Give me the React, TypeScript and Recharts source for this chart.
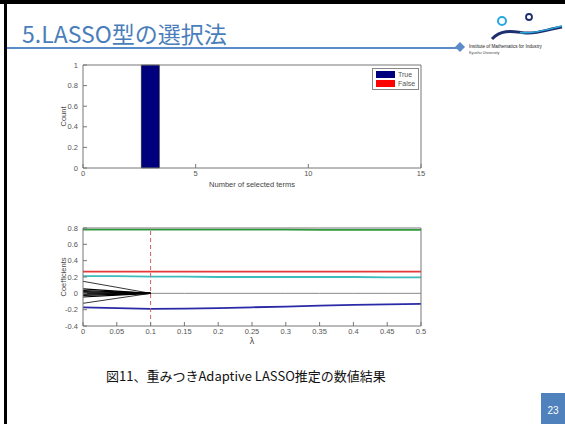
import React from 'react';
import { BarChart, Bar, XAxis, YAxis, Legend, LineChart, Line, ReferenceLine } from 'recharts';

// ---------- top chart data ----------
const selectedTerms = [0, 1, 2, 3, 4, 5, 6, 7, 8, 9, 10, 11, 12, 13, 14, 15];
const trueCount = [0, 0, 0, 1, 0, 0, 0, 0, 0, 0, 0, 0, 0, 0, 0, 0];
const falseCount = [0, 0, 0, 0, 0, 0, 0, 0, 0, 0, 0, 0, 0, 0, 0, 0];
const legendOrder = ['True', 'False'];
const termTicks = [0, 5, 10, 15];
const countTicks = [0, 0.2, 0.4, 0.6, 0.8, 1];

// ---------- bottom chart data ----------
const lambdas = [0, 0.05, 0.1, 0.15, 0.2, 0.25, 0.3, 0.35, 0.4, 0.45, 0.5];
const coefGreen = [0.78, 0.78, 0.78, 0.78, 0.78, 0.78, 0.78, 0.778, 0.778, 0.778, 0.778];
const coefRed = [0.266, 0.266, 0.266, 0.266, 0.266, 0.266, 0.266, 0.266, 0.266, 0.266, 0.266];
const coefCyan = [0.21, 0.21, 0.205, 0.205, 0.2, 0.2, 0.2, 0.2, 0.2, 0.196, 0.196];
const coefBlue = [-0.171, -0.18, -0.19, -0.187, -0.18, -0.171, -0.163, -0.15, -0.142, -0.135, -0.13];
const coefZero = [0, 0, 0, 0, 0, 0, 0, 0, 0, 0, 0];
// black paths shrinking to zero by lambda = 0.1 (values at 0, 0.05, 0.1)
const fanPaths = [
  [0.147, 0.074, 0],
  [0.055, 0.028, 0],
  [0.035, 0.018, 0],
  [0.02, 0.01, 0],
  [0.005, 0.003, 0],
  [-0.01, -0.005, 0],
  [-0.025, -0.013, 0],
  [-0.045, -0.023, 0],
  [-0.122, -0.061, 0],
];
const lambdaTicks = [0, 0.05, 0.1, 0.15, 0.2, 0.25, 0.3, 0.35, 0.4, 0.45, 0.5];
const coefTicks = [-0.4, -0.2, 0, 0.2, 0.4, 0.6, 0.8];
const cutoffLambda = 0.1;

const barData = selectedTerms.map((x, i) => ({ x, True: trueCount[i], False: falseCount[i] }));
const lineData = lambdas.map((l, i) => {
  const row: Record<string, number | null> = {
    l,
    green: coefGreen[i],
    red: coefRed[i],
    cyan: coefCyan[i],
    blue: coefBlue[i],
    zero: coefZero[i],
  };
  fanPaths.forEach((p, k) => {
    row['f' + k] = i < p.length ? p[i] : null;
  });
  return row;
});

const tickStyle = { fontSize: 7.5, fill: '#555', fontFamily: 'Liberation Sans, Arial, sans-serif' };
const axisColor = '#777';
const labelStyle = { fontSize: 7.5, fill: '#444', fontFamily: 'Liberation Sans, Arial, sans-serif', textAnchor: 'middle' as const };

const LegendBox = (props: any) => {
  const items = [...(props.payload || [])].sort(
    (a: any, b: any) => legendOrder.indexOf(a.value) - legendOrder.indexOf(b.value)
  );
  return (
    <div style={{ width: 45, height: 19, border: '1px solid #888', background: '#fff', boxSizing: 'content-box', paddingTop: 1 }}>
      {items.map((it: any) => (
        <div key={it.value} style={{ display: 'flex', alignItems: 'center', height: 9, marginLeft: 3 }}>
          <div style={{ width: 19, height: 7, background: it.color }} />
          <span style={{ fontSize: 7, color: '#555', marginLeft: 3, fontFamily: 'Liberation Sans, Arial, sans-serif', lineHeight: '9px' }}>{it.value}</span>
        </div>
      ))}
    </div>
  );
};

export default function App() {
  return (
    <div style={{ position: 'absolute', left: 0, top: 0, width: 565, height: 424, background: '#fff', overflow: 'hidden' }}>
      <svg width={565} height={424} style={{ position: 'absolute', left: 0, top: 0 }}>
        <rect x={0} y={0} width={565} height={4} fill="#000" />
        <rect x={4} y={0} width={3} height={424} fill="#000" />
        <text x={22} y={43} fontSize={23} fill="#4a7ebb" fontFamily="'Noto Sans CJK JP', sans-serif">5.LASSO型の選択法</text>
        <rect x={7} y={47} width={451} height={2} fill="#5b8bc8" />
        <polygon points="460,42 465,47 460,52 455,47" fill="#5b8bc8" />
        <circle cx={502} cy={21} r={4} fill="none" stroke="#29a8e0" strokeWidth={2} />
        <circle cx={529} cy={17} r={3} fill="none" stroke="#1f2f6e" strokeWidth={1.8} />
        <path d="M492,39 C502,28 515,32 526,33 C538,34 548,29 562,27" fill="none" stroke="#1f2f6e" strokeWidth={3} />
        <path d="M520,32.5 C532,34 545,30 562,26" fill="none" stroke="#29a8e0" strokeWidth={1.5} />
        <text x={469} y={48} fontSize={4.6} fill="#222" fontFamily="Liberation Sans, Arial, sans-serif">Institute of Mathematics for Industry</text>
        <text x={469} y={54} fontSize={3.8} fill="#444" fontFamily="Liberation Sans, Arial, sans-serif">Kyushu University</text>
        <text x={106} y={381} fontSize={13} fill="#111" fontFamily="'Noto Sans CJK JP', sans-serif">図11、重みつきAdaptive LASSO推定の数値結果</text>
        <rect x={541} y={393} width={24} height={31} fill="#4f81bd" />
        <text x={553} y={414} fontSize={10} fill="#fff" textAnchor="middle" fontFamily="Liberation Sans, Arial, sans-serif">23</text>
      </svg>

      <div style={{ position: 'absolute', left: 0, top: 0 }}>
        <BarChart width={565} height={200} data={barData} margin={{ top: 64, right: 143, bottom: 20, left: 53 }}>
          <XAxis
            dataKey="x"
            type="number"
            domain={[0, 15]}
            ticks={termTicks}
            height={12}
            tick={tickStyle}
            tickSize={-4}
            tickMargin={7}
            stroke={axisColor}
            label={{ value: 'Number of selected terms', position: 'bottom', offset: 2, style: labelStyle }}
          />
          <XAxis xAxisId="t" dataKey="x" orientation="top" type="number" domain={[0, 15]} ticks={termTicks} height={1} tick={false} tickSize={-4} stroke={axisColor} />
          <YAxis
            type="number"
            domain={[0, 1]}
            ticks={countTicks}
            width={30}
            tick={tickStyle}
            tickSize={-4}
            tickMargin={9}
            stroke={axisColor}
            label={{ value: 'Count', angle: -90, position: 'insideLeft', offset: 10, style: labelStyle }}
          />
          <YAxis yAxisId="r" orientation="right" type="number" domain={[0, 1]} ticks={countTicks} width={1} tick={false} tickSize={-4} stroke={axisColor} />
          <Legend
            layout="horizontal"
            verticalAlign="middle"
            align="center"
            wrapperStyle={{ left: 372, top: 68, width: 47, height: 21 }}
            content={<LegendBox />}
          />
          <Bar dataKey="True" name="True" fill="#00007f" stroke="#000" strokeWidth={0.5} barSize={18} isAnimationActive={false} />
          <Bar dataKey="False" name="False" xAxisId="t" yAxisId="r" fill="#ff0000" barSize={18} isAnimationActive={false} />
        </BarChart>
      </div>

      <div style={{ position: 'absolute', left: 0, top: 200 }}>
        <LineChart width={565} height={160} data={lineData} margin={{ top: 27, right: 143, bottom: 22, left: 53 }}>
          <XAxis
            dataKey="l"
            type="number"
            domain={[0, 0.5]}
            ticks={lambdaTicks}
            height={12}
            tick={tickStyle}
            tickSize={-4}
            tickMargin={7}
            stroke={axisColor}
            label={{ value: 'λ', position: 'bottom', offset: 0, style: { ...labelStyle, fontSize: 9 } }}
          />
          <XAxis xAxisId="t" dataKey="l" orientation="top" type="number" domain={[0, 0.5]} ticks={lambdaTicks} height={1} tick={false} tickSize={-4} stroke={axisColor} />
          <YAxis
            type="number"
            domain={[-0.4, 0.8]}
            ticks={coefTicks}
            width={30}
            tick={tickStyle}
            tickSize={-4}
            tickMargin={9}
            stroke={axisColor}
            label={{ value: 'Coefficients', angle: -90, position: 'insideLeft', offset: 10, style: labelStyle }}
          />
          <YAxis yAxisId="r" orientation="right" type="number" domain={[-0.4, 0.8]} ticks={coefTicks} width={1} tick={false} tickSize={-4} stroke={axisColor} />
          <Line dataKey="zero" xAxisId="t" yAxisId="r" stroke="#8a8a8a" strokeWidth={1} dot={false} isAnimationActive={false} />
          {fanPaths.map((_, k) => (
            <Line key={k} dataKey={'f' + k} stroke="#000" strokeWidth={k === 0 || k === fanPaths.length - 1 ? 0.8 : 1.2} dot={false} isAnimationActive={false} />
          ))}
          <Line dataKey="green" stroke="#2f9a3a" strokeWidth={1.8} dot={false} isAnimationActive={false} />
          <Line dataKey="red" stroke="#e43a3a" strokeWidth={1.8} dot={false} isAnimationActive={false} />
          <Line dataKey="cyan" stroke="#3cbcbc" strokeWidth={1.8} dot={false} isAnimationActive={false} />
          <Line dataKey="blue" stroke="#2a2aa8" strokeWidth={1.8} dot={false} isAnimationActive={false} />
          <ReferenceLine x={cutoffLambda} stroke="#c86464" strokeDasharray="4 3" strokeWidth={1} />
        </LineChart>
      </div>
    </div>
  );
}
